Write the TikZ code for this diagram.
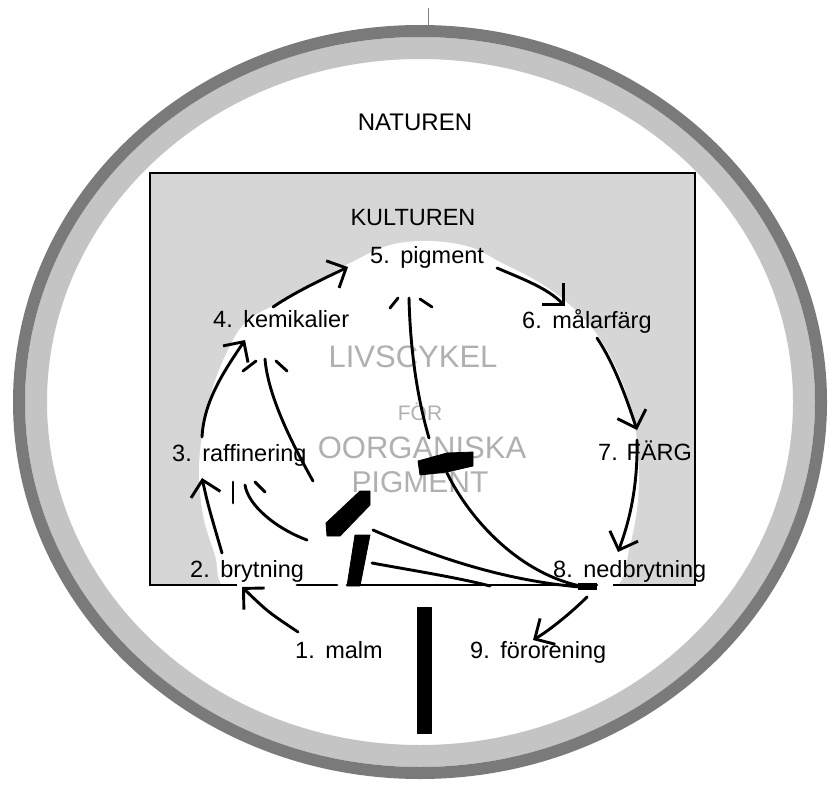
\documentclass[tikz,border=0pt]{standalone}
\usepackage{fontspec}
\setmainfont{Liberation Sans}
\usetikzlibrary{arrows.meta}
\definecolor{ringdark}{HTML}{7A7A7A}
\definecolor{ringlight}{HTML}{C4C4C4}
\definecolor{boxfill}{HTML}{D6D6D6}
\definecolor{ghost}{HTML}{B0B0B0}
\begin{document}
\begin{tikzpicture}[x=1pt,y=-1pt,
  lab/.style={anchor=base west,inner sep=0pt,font=\fontsize{23.5}{28}\selectfont},
  ttl/.style={anchor=base,inner sep=0pt,font=\fontsize{24}{28}\selectfont},
  ghosttext/.style={anchor=base,inner sep=0pt,text=ghost},
  flow/.style={line width=2.9pt,line cap=round,-{Straight Barb[length=15pt,width=30pt]}},
  stroke/.style={line width=2.9pt,line cap=round},
  bar/.style={fill=black,draw=black,line width=0.8pt,line join=round}
]
\useasboundingbox (0,0) rectangle (829,784);
\fill[white] (0,0) rectangle (829,784);
% ring
\draw[ringlight,line width=22pt] (420,402) ellipse [x radius=384, y radius=354];
\draw[ringdark,line width=12pt] (420,402) ellipse [x radius=401, y radius=371];
\draw[gray,line width=1pt] (428,8) -- (428,26);
% culture box
\fill[boxfill] (150,173) rectangle (695,585);
\fill[white] plot[smooth cycle, tension=0.6] coordinates {(320,280) (352,262) (390,245) (430,241) (470,247) (500,262) (540,283) (572,307) (598,336) (618,372) (631,410) (638,450) (638,500) (630,545) (615,588) (560,598) (300,598) (228,590) (215,555) (203,515) (199,470) (203,430) (212,390) (227,352) (246,322) (280,302)};
\draw[line width=2.4pt] (613,585) -- (695,585) -- (695,173) -- (150,173) -- (150,585) -- (237,585);
\draw[stroke] (297,585) -- (337,585);
\draw[stroke] (347,585) -- (597,585);
% titles
\node[ttl] (nat) at (415,130) {NATUREN};
\node[ttl,font=\fontsize{23.5}{28}\selectfont] (kul) at (413,225) {KULTUREN};
% ghost texts
\node[ghosttext,font=\fontsize{31}{34}\selectfont] (liv) at (413,367) {LIVSCYKEL};
\node[ghosttext,font=\fontsize{21}{24}\selectfont] (for) at (420,420) {FÖR};
\node[ghosttext,font=\fontsize{31}{34}\selectfont] (oorg) at (422,458) {OORGANISKA};
\node[ghosttext,font=\fontsize{30}{34}\selectfont] (pigm) at (420,492) {PIGMENT};
% labels
\node[lab] (n5) at (370,263) {5.\hspace{0.45em}pigment};
\node[lab] (n4) at (213,327) {4.\hspace{0.45em}kemikalier};
\node[lab] (n3) at (172,461) {3.\hspace{0.45em}raffinering};
\node[lab] (n2) at (190,577) {2.\hspace{0.45em}brytning};
\node[lab] (n1) at (295,658) {1.\hspace{0.45em}malm};
\node[lab] (n9) at (470,658) {9.\hspace{0.45em}förorening};
\node[lab] (n8) at (553,577) {8.\hspace{0.45em}nedbrytning};
\node[lab] (n7) at (598,460) {7. FÄRG};
\node[lab] (n6) at (522,328) {6.\hspace{0.45em}målarfärg};
% connector end points
\coordinate (c1) at (298,632); \coordinate (c2in) at (242,587);
\coordinate (c2) at (222,553); \coordinate (c3in) at (202,478);
\coordinate (c3) at (202,437); \coordinate (c4in) at (245,340);
\coordinate (c4) at (273,307); \coordinate (c5in) at (348,267);
\coordinate (c5) at (497,268); \coordinate (c6in) at (565,306);
\coordinate (c6) at (597,338); \coordinate (c7in) at (637,430);
\coordinate (c7) at (637,440); \coordinate (c8in) at (618,552);
\coordinate (c8) at (587,597); \coordinate (c9in) at (533,640);
\coordinate (r5a) at (429,438); \coordinate (r5b) at (409,298);
\coordinate (r4a) at (313,481); \coordinate (r4b) at (265,359);
\coordinate (r3a) at (307,540); \coordinate (r3b) at (245,485);
\coordinate (barA) at (373,530); \coordinate (barB) at (372,563);
\coordinate (barC) at (447,473);
\coordinate (hubA) at (580,587); \coordinate (hubB) at (490,586); \coordinate (hubC) at (585,587);
% main cycle
\draw[flow] (c1) .. controls (268,612) .. (c2in);
\draw[flow] (c2) .. controls (208,505) .. (c3in);
\draw[flow] (c3) .. controls (204,400) and (225,370) .. (c4in);
\draw[flow] (c4) .. controls (295,292) and (325,278) .. (c5in);
\draw[flow] (c5) .. controls (525,280) and (547,288) .. (c6in);
\draw[flow] (c6) .. controls (615,365) and (627,400) .. (c7in);
\draw[flow] (c7) .. controls (638,490) and (628,525) .. (c8in);
\draw[flow] (c8) .. controls (572,612) and (550,630) .. (c9in);
% recycling arrows (broken heads)
\draw[stroke] (r5a) .. controls (415,390) and (410,340) .. (r5b);
\draw[stroke] (390,308) -- (398,298); \draw[stroke] (420,299) -- (432,307);
\draw[stroke] (r4a) .. controls (290,440) and (268,395) .. (r4b);
\draw[stroke] (243,371) -- (256,361); \draw[stroke] (276,361) -- (287,371);
\draw[stroke] (r3a) .. controls (275,528) and (248,505) .. (r3b);
\draw[stroke] (233,482) -- (233,503); \draw[stroke] (255,482) -- (265,492);
% lines to 8
\draw[stroke] (barA) .. controls (430,555) and (500,580) .. (hubA);
\draw[stroke] (barB) .. controls (410,570) and (460,578) .. (hubB);
\draw[stroke] (barC) .. controls (470,520) and (520,575) .. (hubC);
\fill (578,583) rectangle (597,590);
% black bars
\path[bar] (326,523) -- (360,491) -- (370,491) -- (370,505) -- (340,536) -- (327,536) -- cycle;
\path[bar] (418,461) -- (447,453) -- (473,452) -- (473,466) -- (447,472) -- (420,475) -- cycle;
\path[bar] (355,535) -- (370,535) -- (360,586) -- (347,586) -- cycle;
\path[bar] (417,607) rectangle (431,733);
\end{tikzpicture}
\end{document}
